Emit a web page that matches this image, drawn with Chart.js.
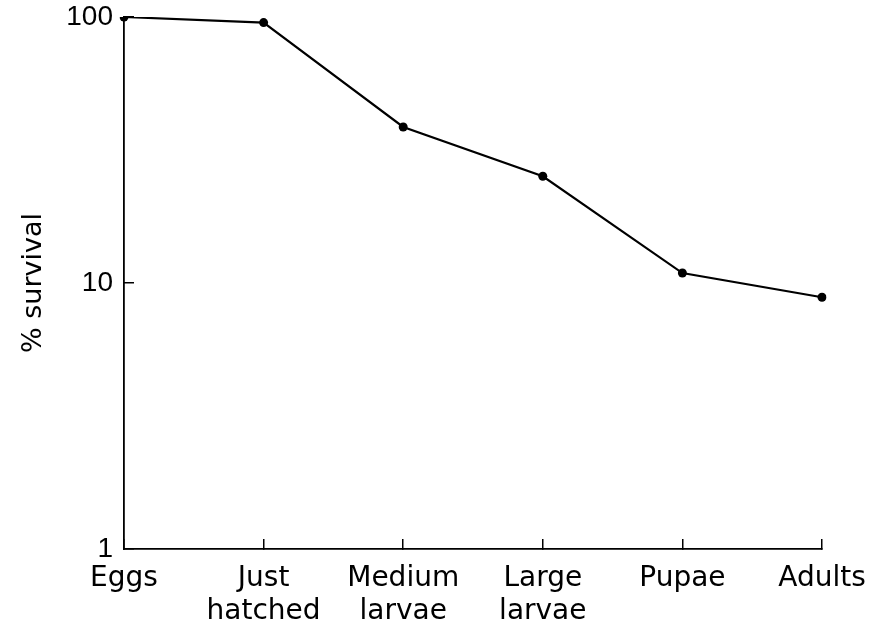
<!DOCTYPE html>
<html>
<head>
<meta charset="utf-8">
<script src="https://cdn.jsdelivr.net/npm/chart.js@4.4.1/dist/chart.umd.min.js"></script>
<style>
  html, body { margin: 0; padding: 0; background: #fff; }
  #wrap { width: 874px; height: 629px; position: relative; }
</style>
</head>
<body>
<div id="wrap"><canvas id="c" width="874" height="629"></canvas></div>
<script>
const stages = [["Eggs"], ["Just", "hatched"], ["Medium", "larvae"], ["Large", "larvae"], ["Pupae"], ["Adults"]];
const survival = [100, 95.3, 38.6, 25.2, 10.9, 8.84];
const yTicks = [1, 10, 100];
const yTitle = "% survival";

const FONT = "'DejaVu Sans', sans-serif";

new Chart(document.getElementById('c'), {
  type: 'line',
  data: {
    labels: stages,
    datasets: [{
      data: survival,
      borderColor: '#000',
      backgroundColor: '#000',
      borderWidth: 2.2,
      pointRadius: 4.5,
      pointHoverRadius: 4.5,
      pointBackgroundColor: '#000',
      pointBorderWidth: 0,
      tension: 0,
      fill: false
    }]
  },
  options: {
    responsive: false,
    animation: false,
    devicePixelRatio: 1,
    layout: { padding: { left: 0, right: 52, top: 17, bottom: 0 } },
    plugins: { legend: { display: false }, tooltip: { enabled: false } },
    scales: {
      x: {
        type: 'category',
        offset: false,
        afterFit: (s) => { s.height = 80; s.paddingLeft = 0; s.paddingRight = 0; },
        border: { display: true, color: '#000', width: 1.8 },
        grid: { display: true, drawOnChartArea: false, drawTicks: true, tickLength: -10, color: '#000', lineWidth: 1.5 },
        ticks: {
          color: '#000',
          font: { family: FONT, size: 28, lineHeight: 1.15 },
          padding: 24,
          maxRotation: 0,
          autoSkip: false
        }
      },
      y: {
        type: 'logarithmic',
        min: 1,
        max: 100,
        afterBuildTicks: (scale) => { scale.ticks = yTicks.map(v => ({ value: v })); },
        afterFit: (s) => { s.width = 124; s.paddingTop = 0; s.paddingBottom = 0; },
        border: { display: true, color: '#000', width: 1.8 },
        grid: { display: true, drawOnChartArea: false, drawTicks: true, tickLength: -10, color: '#000', lineWidth: 1.5 },
        ticks: {
          color: '#000',
          font: { family: "'Liberation Sans', sans-serif", size: 28 },
          padding: 21,
          callback: (v) => String(v)
        },
        title: {
          display: true,
          text: yTitle,
          color: '#000',
          font: { family: FONT, size: 27 },
          padding: { top: 18, bottom: 10 }
        }
      }
    }
  }
});
</script>
</body>
</html>
